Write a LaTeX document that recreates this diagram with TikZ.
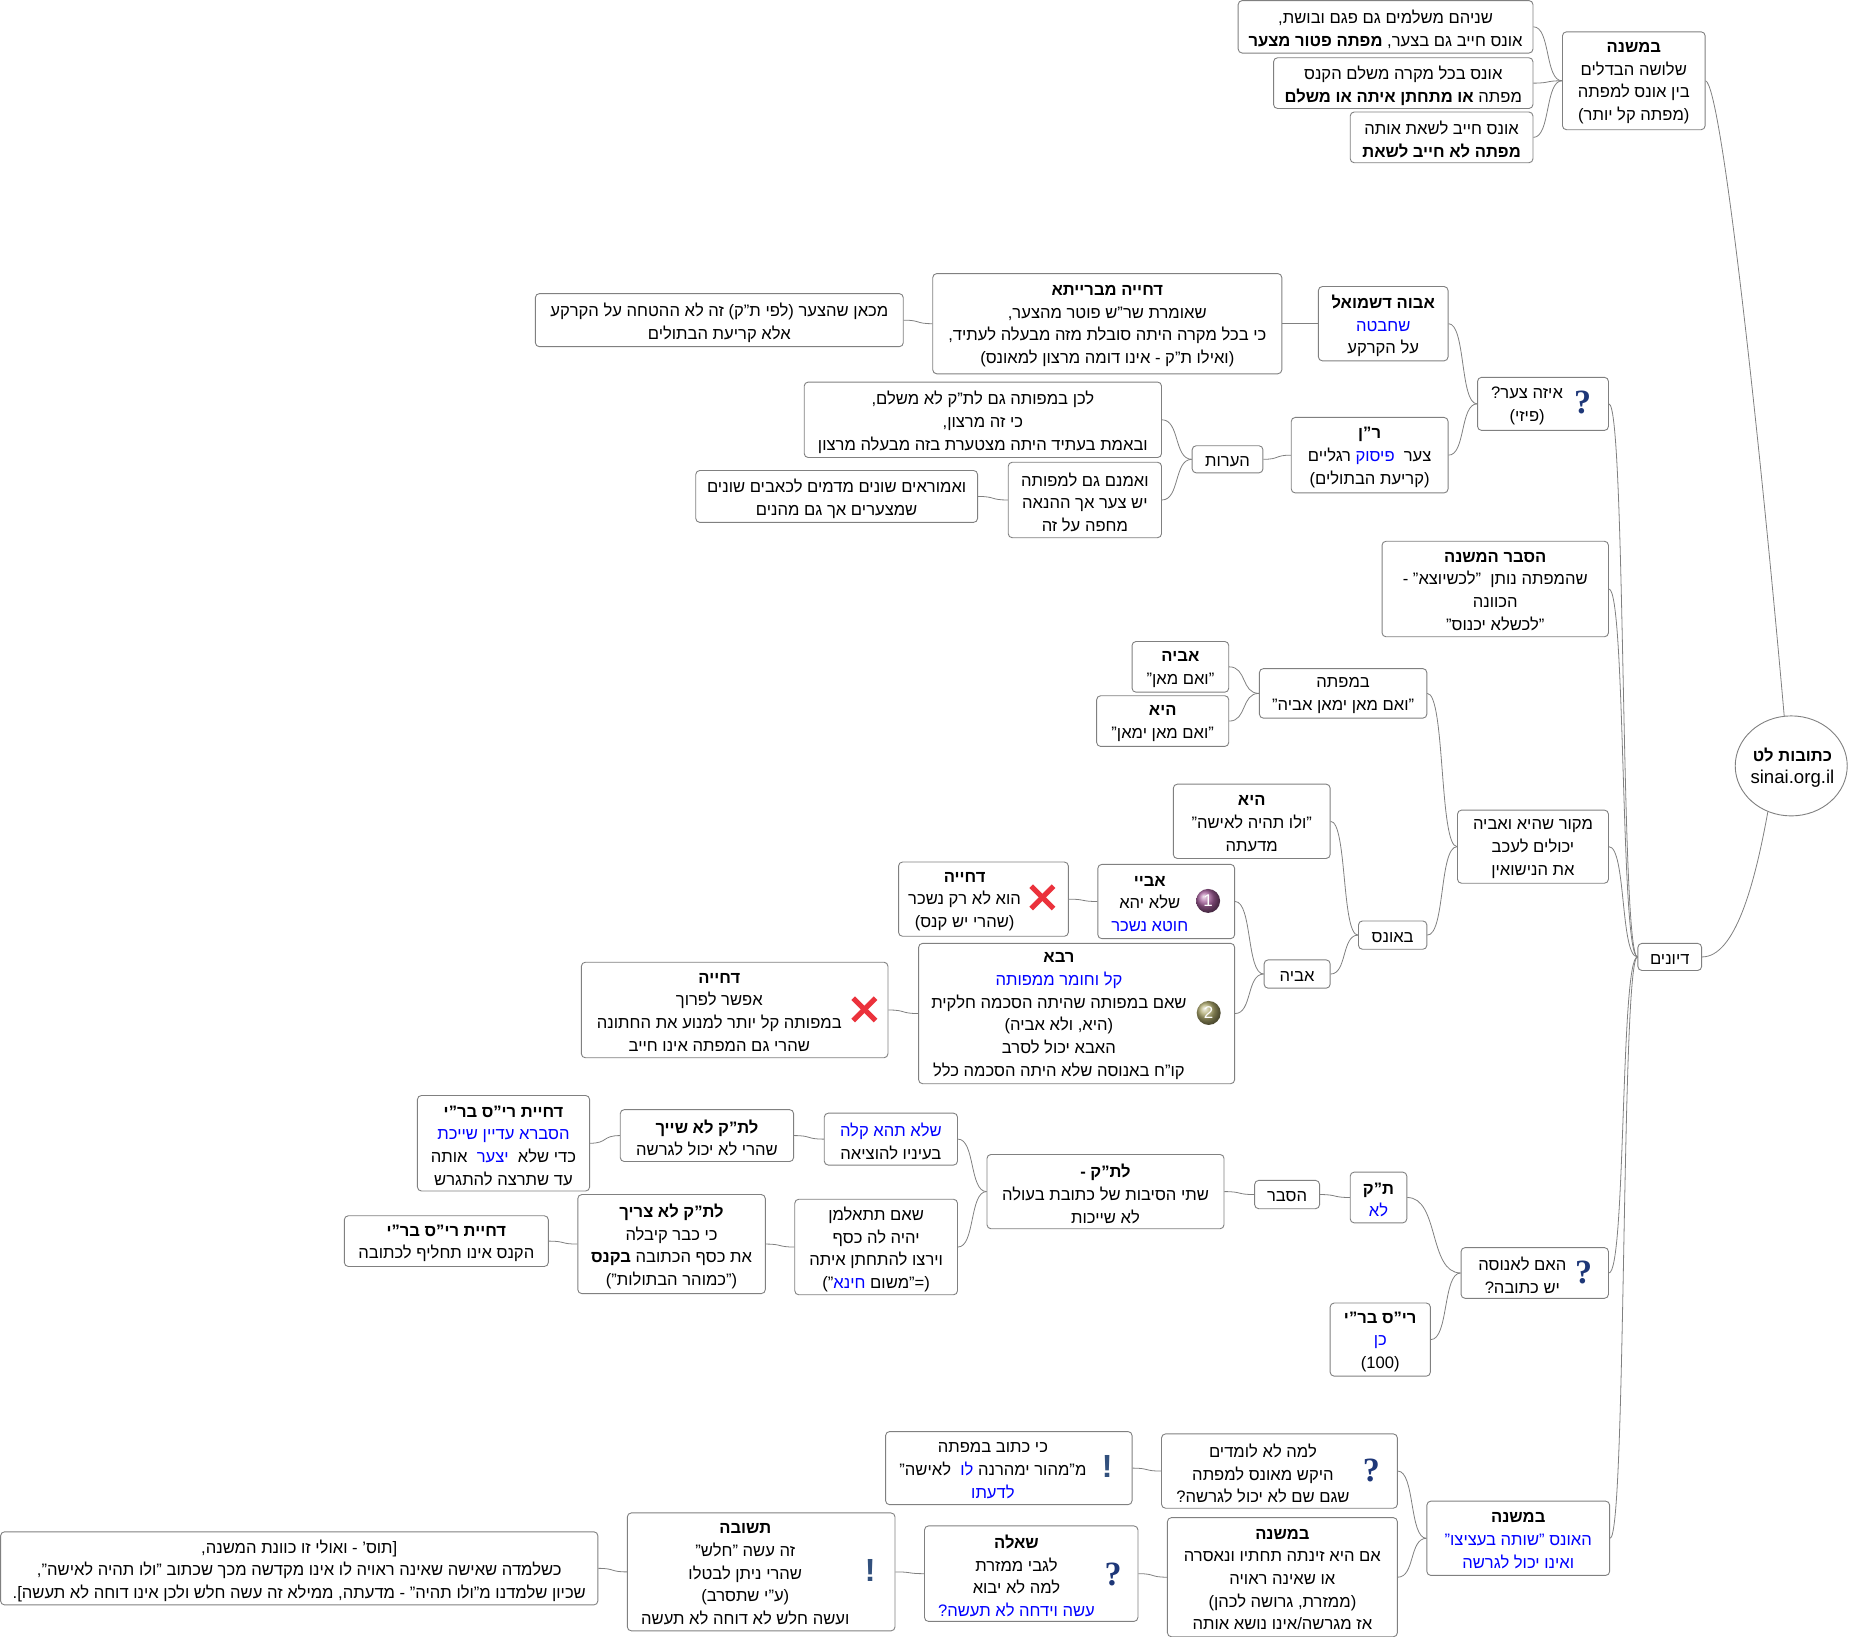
\documentclass[tikz,border=0pt]{standalone}
\usepackage{fontspec}
\usetikzlibrary{calc,shapes.geometric}
\setmainfont[Script=Hebrew]{Liberation Sans}
\newfontfamily\iconfont{Liberation Serif}
\newfontfamily\iconsans{Liberation Sans}
\TeXXeTstate=1
\newcommand{\rl}[1]{\beginR #1\endR}
\newcommand{\bl}[1]{\textcolor{blue}{#1}}
\newcommand{\tb}[1]{\textbf{#1}}
\newcommand{\bxo}[7]{\node[box,minimum width={(#4-#2)*1.17921pt},minimum height={(#5-#3)*1.17921pt}] (#1) at ({(#2+#4)/2},{(#3+#5)/2}) {};
\node[txt] (#1t) at (#6,{(#3+#5)/2+2}) {#7};}
\newcommand{\bx}[6]{\bxo{#1}{#2}{#3}{#4}{#5}{{(#2+#4)/2}}{#6}}
\newcommand{\cn}[2]{\draw[conn] let \p1=(#1.east), \p2=(#2.west) in (\p1) .. controls +({0.6*(\x2-\x1)},0pt) and +({-0.6*(\x2-\x1)},0pt) .. (\p2);}
\newcommand{\qm}[3]{\node[qicon] (#1) at (#2,#3) {?};}
\newcommand{\ex}[3]{\node[eicon] (#1) at (#2,#3) {!};}
\newcommand{\xm}[3]{\coordinate (#1) at (#2,#3);
\draw[xicon] ($(#1)+(-9.5,-9.5)$) -- ($(#1)+(9.5,9.5)$);\draw[xicon] ($(#1)+(9.5,-9.5)$) -- ($(#1)+(-9.5,9.5)$);}
\tikzset{
 x=1.17921pt,y=-1.17921pt,
 box/.style={draw=black!50,line width=0.9pt,rounded corners=4pt,fill=white,inner sep=0pt},
 txt/.style={inner sep=0pt,align=center,text=black,font=\fontsize{16.6}{22.7}\selectfont},
 conn/.style={draw=black!50,line width=0.8pt},
 qicon/.style={inner sep=0pt,text={rgb,255:red,30;green,55;blue,120},font=\iconfont\fontsize{34}{34}\selectfont\bfseries},
 eicon/.style={inner sep=0pt,text={rgb,255:red,50;green,80;blue,125},font=\iconsans\fontsize{32}{32}\selectfont\bfseries},
 xicon/.style={draw={rgb,255:red,235;green,50;blue,60},line width=5.2pt},
 num/.style={circle,inner sep=0pt,minimum size=24pt,text=white,font=\fontsize{17}{17}\selectfont},
}
\begin{document}
\begin{tikzpicture}
\useasboundingbox (0,0) rectangle (1568,1388);
\node[draw=black!50,line width=0.9pt,ellipse,fill=white,inner sep=0pt,minimum width=112pt,minimum height=100pt] (root) at (1519,649.5) {};
\node[txt] (roott) at (1520,651) {\rl{\tb{כתובות לט}}\\{\fontsize{18.6}{22.7}\selectfont sinai.org.il}};
\bx{na}{1050}{0.5}{1300}{45}{\rl{שניהם משלמים גם פגם ובושת,}\\\rl{אונס חייב גם בצער,\ \tb{מפתה פטור מצער}}}
\bx{nb}{1080}{49}{1300}{92}{\rl{אונס בכל מקרה משלם הקנס}\\\rl{מפתה \tb{או מתחתן איתה או משלם}}}
\bx{nc}{1145}{95}{1300}{138}{\rl{אונס חייב לשאת אותה}\\\rl{\tb{מפתה לא חייב לשאת}}}
\bx{mishA}{1325}{27}{1446}{110}{\rl{\tb{במשנה}}\\\rl{שלושה הבדלים}\\\rl{בין אונס למפתה}\\\rl{(מפתה קל יותר)}}
\bx{mikan}{454}{249}{766}{294}{\rl{מכאן שהצער (לפי ת"ק) זה לא ההטחה על הקרקע}\\\rl{אלא קריעת הבתולים}}
\bx{dchM}{791}{232}{1087}{317}{\rl{\tb{דחייה מברייתא}}\\\rl{שאומרת שר"ש פוטר מהצער,}\\\rl{כי בכל מקרה היתה סובלת מזה מבעלה לעתיד,}\\\rl{(ואילו ת"ק - אינו דומה מרצון למאונס)}}
\bx{abuh}{1118}{243}{1228}{306}{\rl{\tb{אבוה דשמואל}}\\\bl{\rl{שחבטה}}\\\rl{על הקרקע}}
\bxo{eize}{1253}{320}{1364}{365}{1295}{\rl{איזה צער?}\\\rl{(פיזי)}}
\qm{qa}{1342}{341}
\bx{lachen}{682}{324}{985}{388}{\rl{לכן במפותה גם לת"ק לא משלם,}\\\rl{כי זה מרצון,}\\\rl{ובאמת בעתיד היתה מצטערת בזה מבעלה מרצון}}
\bx{veam}{855}{392}{985}{456}{\rl{ואמנם גם למפותה}\\\rl{יש צער אך ההנאה}\\\rl{מחפה על זה}}
\bx{amor}{590}{399}{829}{443}{\rl{ואמוראים שונים מדמים לכאבים שונים}\\\rl{שמצערים אך גם מהנים}}
\bx{hear}{1011}{378}{1071}{401}{\rl{הערות}}
\bx{ran}{1095}{354}{1228}{418}{\rl{\tb{ר"ן}}\\\rl{רגליים}\ \bl{\rl{פיסוק}}\ \ \rl{צער}\\\rl{(קריעת הבתולים)}}
\bx{hesb}{1172}{459}{1364}{540}{\rl{\tb{הסבר המשנה}}\\\rl{שהמפתה נותן\ \ "לכשיוצא" -}\\\rl{הכוונה}\\\rl{"לכשלא יכנוס"}}
\bx{avA}{960}{544}{1042}{587}{\rl{\tb{אביה}}\\\rl{"ואם מאן"}}
\bx{hiA}{930}{590}{1042}{633}{\rl{\tb{היא}}\\\rl{"ואם מאן ימאן"}}
\bx{mefa}{1068}{567}{1210}{609}{\rl{במפתה}\\\rl{"ואם מאן ימאן אביה"}}
\bx{makor}{1236}{687}{1364}{749}{\rl{מקור שהיא ואביה}\\\rl{יכולים לעכב}\\\rl{את הנישואין}}
\bx{hiB}{995}{665}{1128}{728}{\rl{\tb{היא}}\\\rl{"ולו תהיה לאישה"}\\\rl{מדעתה}}
\bxo{abaye}{931}{733}{1047}{796}{975}{\rl{\tb{אביי}}\\\rl{שלא יהא}\\\bl{\rl{חוטא נשכר}}}
\node[num,ball color={rgb,255:red,165;green,95;blue,155}] (one) at (1024.5,764) {1};
\bxo{dchA}{762}{731}{906}{794}{818}{\rl{\tb{דחייה}}\\\rl{הוא לא רק נשכר}\\\rl{(שהרי יש קנס)}}
\xm{xa}{884}{761}
\bx{baon}{1152}{781}{1210}{805}{\rl{באונס}}
\bx{avB}{1072}{814}{1128}{838}{\rl{אביה}}
\bxo{rava}{779}{800}{1047}{919}{898}{\rl{\tb{רבא}}\\\bl{\rl{קל וחומר ממפותה}}\\\rl{שאם במפותה שהיתה הסכמה חלקית}\\\rl{(היא, ולא אביה)}\\\rl{האבא יכול לסרב}\\\rl{קו"ח באנוסה שלא היתה הסכמה כלל}}
\node[num,ball color={rgb,255:red,175;green,170;blue,110}] (two) at (1025,859) {2};
\bxo{dchB}{493}{816}{753}{897}{610}{\rl{\tb{דחייה}}\\\rl{אפשר לפרוך}\\\rl{במפותה קל יותר למנוע את החתונה}\\\rl{שהרי גם המפתה אינו חייב}}
\xm{xb}{733}{856}
\bx{diy}{1389}{800}{1443}{823}{\rl{דיונים}}
\bx{shelo}{699}{944}{812}{988}{\bl{\rl{שלא תהא קלה}}\\\rl{בעיניו להוציאה}}
\bx{ltsh}{526}{941}{673}{985}{\rl{\tb{לת"ק לא שייך}}\\\rl{שהרי לא יכול לגרשה}}
\bx{dris}{354}{929}{500}{1010}{\rl{\tb{דחיית רי"ס בר"י}}\\\bl{\rl{הסברא עדיין שייכת}}\\\rl{אותה}\ \ \bl{\rl{יצער}}\ \ \rl{כדי שלא}\\\rl{עד שתרצה להתגרש}}
\bx{lttz}{490}{1013}{649}{1097}{\rl{\tb{לת"ק לא צריך}}\\\rl{כי כבר קיבלה}\\\rl{את כסף הכתובה \tb{בקנס}}\\\rl{("כמוהר הבתולות")}}
\bx{drisb}{292}{1031}{465}{1074}{\rl{\tb{דחיית רי"ס בר"י}}\\\rl{הקנס אינו תחליף לכתובה}}
\bx{sheim}{674}{1017}{812}{1098}{\rl{שאם תתאלמן}\\\rl{יהיה לה כסף}\\\rl{וירצו להתחתן איתה}\\\rl{")}\bl{\rl{חינא}}\ \rl{(="משום}}
\bx{ltk}{837}{979}{1038}{1042}{\rl{\tb{לת"ק -}}\\\rl{שתי הסיבות של כתובת בעולה}\\\rl{לא שייכות}}
\bx{hesbB}{1064}{1001}{1119}{1025}{\rl{הסבר}}
\bx{tk}{1145}{994}{1193}{1037}{\rl{\tb{ת"ק}}\\\bl{\rl{לא}}}
\bxo{haim}{1239}{1058}{1364}{1101}{1291}{\rl{האם לאנוסה}\\\rl{יש כתובה?}}
\qm{qb}{1343}{1079}
\bx{ris}{1128}{1105}{1213}{1167}{\rl{\tb{רי"ס בר"י}}\\\bl{\rl{כן}}\\(100)}
\bxo{ki}{751}{1214}{960}{1276}{842}{\rl{כי כתוב במפתה}\\\rl{לאישה"}\ \ \bl{\rl{לו}}\ \rl{מ"מהור ימהרנה}\\\bl{\rl{לדעתו}}}
\ex{ea}{939}{1244}
\bxo{lama}{985}{1216}{1185}{1279}{1071}{\rl{למה לא לומדים}\\\rl{היקש מאונס למפתה}\\\rl{שגם שם לא יכול לגרשה?}}
\qm{qc}{1163}{1247}
\bx{mishB}{1210}{1273}{1365}{1336}{\rl{\tb{במשנה}}\\\bl{\rl{האונס "שותה בעציצו"}}\\\bl{\rl{ואינו יכול לגרשה}}}
\bx{mishC}{990}{1287}{1185}{1388}{\rl{\tb{במשנה}}\\\rl{אם היא זינתה תחתיו ונאסרה}\\\rl{או שאינה ראויה}\\\rl{(ממזרת, גרושה לכהן)}\\\rl{אז מגרשה/אינו נושא אותה}}
\bxo{sheela}{784}{1294}{965}{1375}{862}{\rl{\tb{שאלה}}\\\rl{לגבי ממזרת}\\\rl{למה לא יבוא}\\\bl{\rl{עשה וידחה לא תעשה?}}}
\qm{qd}{944}{1335}
\bxo{tesh}{532}{1283}{759}{1383}{632}{\rl{\tb{תשובה}}\\\rl{זה עשה "חלש"}\\\rl{שהרי ניתן לבטלו}\\\rl{(ע"י שתסרב)}\\\rl{ועשה חלש לא דוחה לא תעשה}}
\ex{eb}{738}{1332}
\bx{tos}{0.5}{1299}{507}{1361}{\rl{[תוס' - ואולי זו כוונת המשנה,}\\\rl{כשלמדה שאישה שאינה ראויה לו אינו מקדשה מכך שכתוב "ולו תהיה לאישה",}\\\rl{שכיון שלמדנו מ"ולו תהיה" - מדעתה, ממילא זה עשה חלש ולכן אינו דוחה לא תעשה].}}
\cn{na}{mishA}\cn{nb}{mishA}\cn{nc}{mishA}
\cn{abuh}{eize}\cn{ran}{eize}\cn{dchM}{abuh}\cn{mikan}{dchM}
\cn{hear}{ran}\cn{lachen}{hear}\cn{veam}{hear}\cn{amor}{veam}
\cn{mefa}{makor}\cn{baon}{makor}\cn{avA}{mefa}\cn{hiA}{mefa}
\cn{hiB}{baon}\cn{avB}{baon}\cn{abaye}{avB}\cn{rava}{avB}\cn{dchA}{abaye}\cn{dchB}{rava}
\cn{tk}{haim}\cn{ris}{haim}\cn{hesbB}{tk}\cn{ltk}{hesbB}
\cn{shelo}{ltk}\cn{sheim}{ltk}\cn{ltsh}{shelo}\cn{dris}{ltsh}\cn{lttz}{sheim}\cn{drisb}{lttz}
\cn{lama}{mishB}\cn{mishC}{mishB}\cn{ki}{lama}\cn{sheela}{mishC}\cn{tesh}{sheela}\cn{tos}{tesh}
\cn{eize}{diy}\cn{hesb}{diy}\cn{makor}{diy}\cn{haim}{diy}\cn{mishB}{diy}
\draw[conn] (mishA.east) .. controls +(14,4) and (1494,390) .. (root.98);
\draw[conn] (diy.east) .. controls +(28,0) and (1488,750) .. (root.243);
\end{tikzpicture}
\end{document}
